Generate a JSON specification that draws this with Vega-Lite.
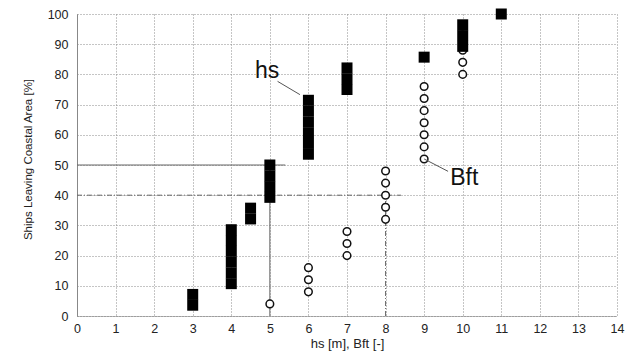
{
  "$schema": "https://vega.github.io/schema/vega-lite/v6.json",
  "autosize": {"type": "none"},
  "padding": {"left": 77, "top": 14, "right": 20, "bottom": 38},
  "width": 540,
  "height": 302,
  "background": "white",
  "config": {
    "view": {"stroke": null},
    "font": "Liberation Sans",
    "axis": {
      "labelFont": "Liberation Sans",
      "titleFont": "Liberation Sans",
      "labelColor": "#222",
      "titleColor": "#222",
      "titleFontWeight": "normal",
      "ticks": false,
      "grid": true,
      "gridColor": "#8a8a8a",
      "gridDash": [1, 2],
      "gridWidth": 1,
      "labelFontSize": 12.5
    }
  },
  "datasets": {
    "hs": [
      {"value": 3, "pct": 3.57},
      {"value": 3, "pct": 7.14},
      {"value": 4, "pct": 10.71},
      {"value": 4, "pct": 14.29},
      {"value": 4, "pct": 17.86},
      {"value": 4, "pct": 21.43},
      {"value": 4, "pct": 25.0},
      {"value": 4, "pct": 28.57},
      {"value": 4.5, "pct": 32.14},
      {"value": 4.5, "pct": 35.71},
      {"value": 5, "pct": 39.29},
      {"value": 5, "pct": 42.86},
      {"value": 5, "pct": 46.43},
      {"value": 5, "pct": 50.0},
      {"value": 6, "pct": 53.57},
      {"value": 6, "pct": 57.14},
      {"value": 6, "pct": 60.71},
      {"value": 6, "pct": 64.29},
      {"value": 6, "pct": 67.86},
      {"value": 6, "pct": 71.43},
      {"value": 7, "pct": 75.0},
      {"value": 7, "pct": 78.57},
      {"value": 7, "pct": 82.14},
      {"value": 9, "pct": 85.71},
      {"value": 10, "pct": 89.29},
      {"value": 10, "pct": 92.86},
      {"value": 10, "pct": 96.43},
      {"value": 11, "pct": 100.0}
    ],
    "bft": [
      {"value": 5, "pct": 4},
      {"value": 6, "pct": 8},
      {"value": 6, "pct": 12},
      {"value": 6, "pct": 16},
      {"value": 7, "pct": 20},
      {"value": 7, "pct": 24},
      {"value": 7, "pct": 28},
      {"value": 8, "pct": 32},
      {"value": 8, "pct": 36},
      {"value": 8, "pct": 40},
      {"value": 8, "pct": 44},
      {"value": 8, "pct": 48},
      {"value": 9, "pct": 52},
      {"value": 9, "pct": 56},
      {"value": 9, "pct": 60},
      {"value": 9, "pct": 64},
      {"value": 9, "pct": 68},
      {"value": 9, "pct": 72},
      {"value": 9, "pct": 76},
      {"value": 10, "pct": 80},
      {"value": 10, "pct": 84},
      {"value": 10, "pct": 88},
      {"value": 10, "pct": 92},
      {"value": 10, "pct": 96},
      {"value": 11, "pct": 100}
    ],
    "solidRefs": [
      {"value": 5, "pct": 0, "value2": 5, "pct2": 50},
      {"value": 0, "pct": 50, "value2": 5.4, "pct2": 50}
    ],
    "dashRefs": [
      {"value": 8, "pct": 0, "value2": 8, "pct2": 40},
      {"value": 0, "pct": 40, "value2": 8.4, "pct2": 40}
    ],
    "leaders": [
      {"value": 5.2, "pct": 77.7, "value2": 5.78, "pct2": 73.3},
      {"value": 9.0, "pct": 52.0, "value2": 9.62, "pct2": 47.9}
    ],
    "labels": [
      {"value": 4.93, "pct": 78.8, "label": "hs"},
      {"value": 10.04, "pct": 43.3, "label": "Bft"}
    ]
  },
  "encoding": {
    "x": {
      "field": "value",
      "type": "quantitative",
      "scale": {"domain": [0, 14], "nice": false, "zero": false},
      "axis": {
        "values": [0, 1, 2, 3, 4, 5, 6, 7, 8, 9, 10, 11, 12, 13, 14],
        "title": "hs [m], Bft [-]",
        "titleFontSize": 13,
        "titleBaseline": "alphabetic",
        "titleY": 31,
        "titleX": 270,
        "labelPadding": 6.5,
        "labelFlush": false,
        "labelOverlap": false,
        "labelBound": false,
        "gridDash": [1, 2],
        "domainColor": "#777",
        "domainDash": [1, 1]
      }
    },
    "y": {
      "field": "pct",
      "type": "quantitative",
      "scale": {"domain": [0, 100], "nice": false},
      "axis": {
        "values": [0, 10, 20, 30, 40, 50, 60, 70, 80, 90, 100],
        "title": "Ships Leaving Coastal Area [%]",
        "titleFontSize": 11.5,
        "titleX": -44,
        "titleY": 145,
        "titleAngle": 270,
        "titleBaseline": "bottom",
        "labelPadding": 9,
        "labelFlush": false,
        "labelOverlap": false,
        "gridDash": [1, 2],
        "domainColor": "#888"
      }
    }
  },
  "layer": [
    {
      "data": {"name": "solidRefs"},
      "mark": {"type": "rule", "color": "#666", "strokeWidth": 1},
      "encoding": {
        "x2": {"field": "value2"},
        "y2": {"field": "pct2"}
      }
    },
    {
      "data": {"name": "dashRefs"},
      "mark": {"type": "rule", "color": "#666", "strokeWidth": 1, "strokeDash": [5, 2, 1, 2]},
      "encoding": {
        "x2": {"field": "value2"},
        "y2": {"field": "pct2"}
      }
    },
    {
      "data": {"name": "bft"},
      "mark": {"type": "point", "shape": "circle", "filled": false, "fill": "white", "fillOpacity": 1, "stroke": "#111", "strokeWidth": 1.5, "size": 58, "opacity": 1}
    },
    {
      "data": {"name": "hs"},
      "mark": {"type": "point", "shape": "square", "filled": true, "color": "#000", "size": 121, "opacity": 1}
    },
    {
      "data": {"name": "leaders"},
      "mark": {"type": "rule", "color": "#555", "strokeWidth": 1},
      "encoding": {
        "x2": {"field": "value2"},
        "y2": {"field": "pct2"}
      }
    },
    {
      "data": {"name": "labels"},
      "mark": {"type": "text", "font": "Liberation Sans", "fontSize": 23, "align": "center", "baseline": "alphabetic", "color": "#111"},
      "encoding": {
        "text": {"field": "label"}
      }
    }
  ]
}
